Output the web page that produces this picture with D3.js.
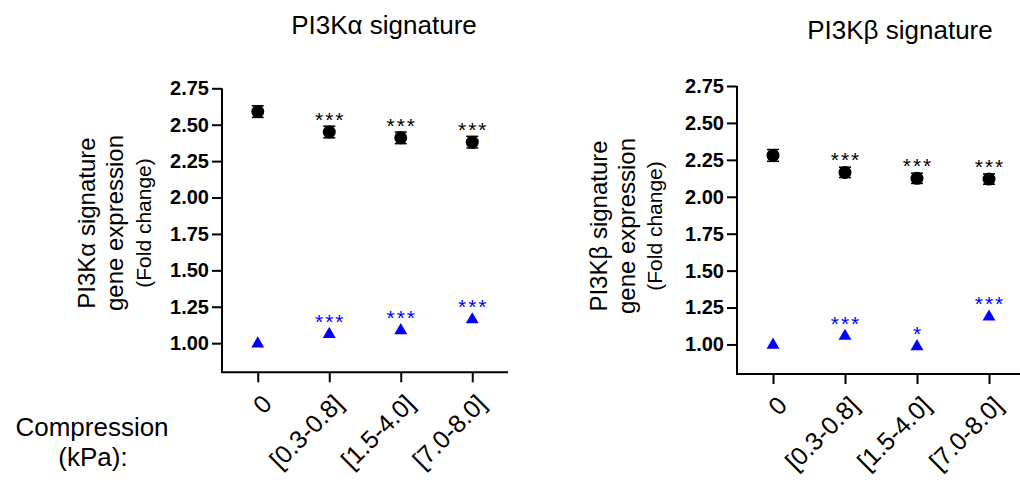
<!DOCTYPE html>
<html>
  <head>
    <script src="https://cdnjs.cloudflare.com/ajax/libs/d3/7.8.5/d3.min.js"></script>
    <style>
      body {
        margin: 0;
        background: #fff;
        overflow: hidden;
      }
      text {
        font-family: "Liberation Sans", Arial, sans-serif;
        fill: #000;
      }
    </style>
  </head>
  <body>
    <div id="chart"></div>
    <script>
      // データ
      const categories = ["0", "[0.3-0.8]", "[1.5-4.0]", "[7.0-8.0]"];
      const yTicks = [1.0, 1.25, 1.5, 1.75, 2.0, 2.25, 2.5, 2.75];

      const alphaCircle = [2.59, 2.45, 2.41, 2.38];
      const alphaCircleErr = [0.04, 0.04, 0.04, 0.04];
      const alphaTri = [1.0, 1.065, 1.09, 1.165];
      const alphaCircleSig = ["", "***", "***", "***"];
      const alphaTriSig = ["", "***", "***", "***"];

      const betaCircle = [2.28, 2.165, 2.125, 2.12];
      const betaCircleErr = [0.04, 0.035, 0.035, 0.035];
      const betaTri = [1.0, 1.06, 0.99, 1.19];
      const betaCircleSig = ["", "***", "***", "***"];
      const betaTriSig = ["", "***", "*", "***"];

      const width = 1020;
      const height = 483;

      const svg = d3
        .select("#chart")
        .append("svg")
        .attr("width", width)
        .attr("height", height);

      // パネルを描く関数
      function drawPanel(p) {
        const x = d3
          .scalePoint()
          .domain(categories)
          .range([p.x0, p.x1])
          .padding(0.5);
        const y = d3.scaleLinear().domain([0.8, 2.75]).range([p.yBottom, p.yTop]);

        // タイトル
        svg
          .append("text")
          .attr("x", p.titleX)
          .attr("y", p.titleY)
          .attr("text-anchor", "middle")
          .style("font-size", "26px")
          .text(p.title);

        // Y軸
        const yAxis = svg
          .append("g")
          .attr("transform", `translate(${p.x0},0)`)
          .call(
            d3
              .axisLeft(y)
              .tickValues(yTicks)
              .tickFormat(d3.format(".2f"))
              .tickSize(10)
              .tickPadding(3)
              .tickSizeOuter(0)
          );
        yAxis.select(".domain").attr("d", `M0,${y(2.75)}V${p.yBottom}`);
        yAxis.selectAll("line, path").attr("stroke", "#000").attr("stroke-width", 2);
        yAxis
          .selectAll("text")
          .style("font-size", "20px")
          .style("font-weight", "bold")
          .style("font-family", "'Liberation Sans', Arial, sans-serif")
          .attr("fill", "#000");

        // X軸
        const xAxis = svg
          .append("g")
          .attr("transform", `translate(0,${p.yBottom})`)
          .call(d3.axisBottom(x).tickSize(10).tickSizeOuter(0));
        xAxis.select(".domain").attr("d", `M${p.x0 - 1},0H${p.x1}`);
        xAxis.selectAll("line, path").attr("stroke", "#000").attr("stroke-width", 2);
        xAxis
          .selectAll("text")
          .style("font-size", "25px")
          .style("font-family", "'Liberation Sans', Arial, sans-serif")
          .attr("fill", "#000")
          .attr("text-anchor", "end")
          .attr("y", 0)
          .attr("dy", 0)
          .attr("transform", "translate(15,33) rotate(-45)");

        // Y軸ラベル（3行）
        const lab = svg
          .append("g")
          .attr("transform", `translate(0,${p.labelY}) rotate(-90)`);
        lab
          .append("text")
          .attr("x", 0)
          .attr("y", p.labelX)
          .attr("text-anchor", "middle")
          .style("font-size", "24px")
          .text(p.yLabel1);
        lab
          .append("text")
          .attr("x", 0)
          .attr("y", p.labelX + 28)
          .attr("text-anchor", "middle")
          .style("font-size", "24px")
          .text("gene expression");
        lab
          .append("text")
          .attr("x", 0)
          .attr("y", p.labelX + 55.5)
          .attr("text-anchor", "middle")
          .style("font-size", "21px")
          .text("(Fold change)");

        // 系列を描く
        const series = [
          { vals: p.circle, err: p.circleErr, sig: p.circleSig, color: "#000", shape: "circle" },
          { vals: p.tri, err: null, sig: p.triSig, color: "#0000ff", shape: "tri" },
        ];
        series.forEach((s) => {
          const pts = categories.map((c, i) => ({
            c: c,
            v: s.vals[i],
            e: s.err ? s.err[i] : 0,
            sig: s.sig[i],
          }));
          const g = svg.append("g");
          // エラーバー（丸の系列のみ）
          if (s.err) {
            const eb = g.selectAll(".eb").data(pts).enter().append("g");
            eb.append("line")
              .attr("x1", (d) => x(d.c))
              .attr("x2", (d) => x(d.c))
              .attr("y1", (d) => y(d.v - d.e))
              .attr("y2", (d) => y(d.v + d.e))
              .attr("stroke", s.color)
              .attr("stroke-width", 1.5);
            [-1, 1].forEach((k) => {
              eb.append("line")
                .attr("x1", (d) => x(d.c) - 6)
                .attr("x2", (d) => x(d.c) + 6)
                .attr("y1", (d) => y(d.v + k * d.e))
                .attr("y2", (d) => y(d.v + k * d.e))
                .attr("stroke", s.color)
                .attr("stroke-width", 1.5);
            });
          }
          // マーカー
          if (s.shape === "circle") {
            g.selectAll(".m")
              .data(pts)
              .enter()
              .append("circle")
              .attr("cx", (d) => x(d.c))
              .attr("cy", (d) => y(d.v))
              .attr("r", 6.5)
              .attr("fill", s.color);
          } else {
            g.selectAll(".m")
              .data(pts)
              .enter()
              .append("path")
              .attr("d", d3.symbol(d3.symbolTriangle, 72))
              .attr("transform", (d) => `translate(${x(d.c)},${y(d.v) + 0.5})`)
              .attr("fill", s.color);
          }
          // 有意差の星印
          g.selectAll(".sig")
            .data(pts.filter((d) => d.sig))
            .enter()
            .append("text")
            .attr("x", (d) => x(d.c) + 1)
            .attr("y", (d) => y(d.v) - 5)
            .attr("text-anchor", "middle")
            .style("font-size", "21px")
            .style("letter-spacing", "2px")
            .style("fill", s.color)
            .text((d) => d.sig);
        });
      }

      drawPanel({
        title: "PI3Kα signature",
        titleX: 384,
        titleY: 34,
        yLabel1: "PI3Kα signature",
        labelX: 95,
        labelY: 223,
        x0: 222,
        x1: 508,
        yTop: 88.3,
        yBottom: 372.3,
        circle: alphaCircle,
        circleErr: alphaCircleErr,
        circleSig: alphaCircleSig,
        tri: alphaTri,
        triSig: alphaTriSig,
      });

      drawPanel({
        title: "PI3Kβ signature",
        titleX: 900,
        titleY: 39,
        yLabel1: "PI3Kβ signature",
        labelX: 606.5,
        labelY: 226,
        x0: 737,
        x1: 1025,
        yTop: 86,
        yBottom: 374,
        circle: betaCircle,
        circleErr: betaCircleErr,
        circleSig: betaCircleSig,
        tri: betaTri,
        triSig: betaTriSig,
      });

      // 左下のラベル
      svg
        .append("text")
        .attr("x", 92)
        .attr("y", 436)
        .attr("text-anchor", "middle")
        .style("font-size", "26px")
        .text("Compression");
      svg
        .append("text")
        .attr("x", 93)
        .attr("y", 466)
        .attr("text-anchor", "middle")
        .style("font-size", "26px")
        .text("(kPa):");
    </script>
  </body>
</html>
